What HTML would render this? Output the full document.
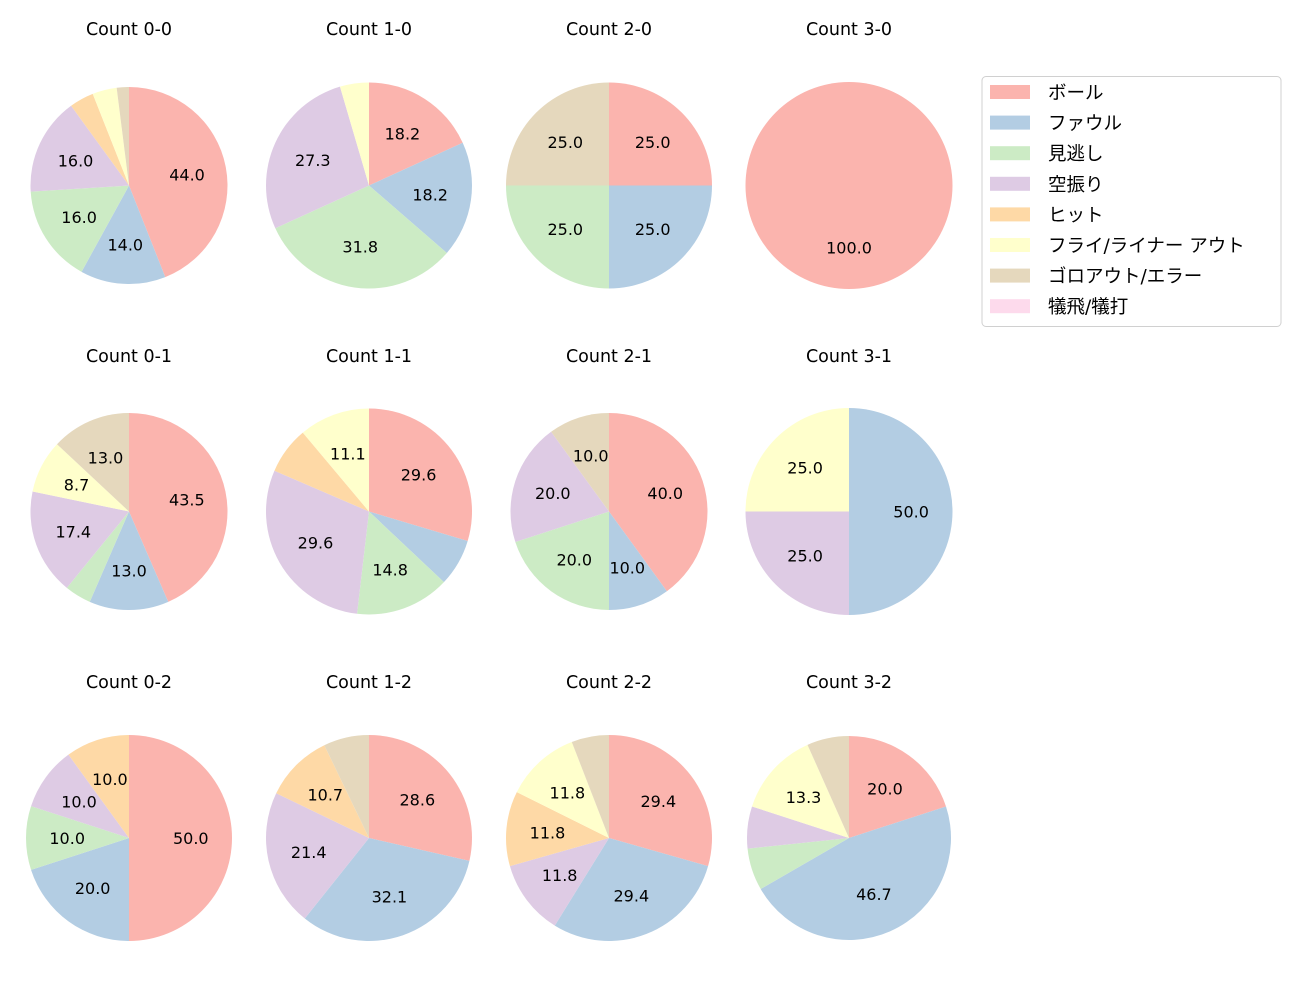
<!DOCTYPE html>
<html><head><meta charset="utf-8"><style>
body{margin:0;background:#fff;}
svg text{font-family:"DejaVu Sans","Noto Sans CJK JP",sans-serif;fill:#000;}
</style></head><body>
<svg id="chart" width="1300" height="1000" xmlns="http://www.w3.org/2000/svg"></svg>
<script>
const categories = ["ボール","ファウル","見逃し","空振り","ヒット","フライ/ライナー アウト","ゴロアウト/エラー","犠飛/犠打"];
const colors = ["#fbb4ae","#b3cde3","#ccebc5","#decbe4","#fed9a6","#ffffcc","#e5d8bd","#fddaec"];
const titles = ["Count 0-0","Count 1-0","Count 2-0","Count 3-0","Count 0-1","Count 1-1","Count 2-1","Count 3-1","Count 0-2","Count 1-2","Count 2-2","Count 3-2"];
const counts00 = [22,7,8,8,2,2,1,0];
const counts10 = [4,4,7,6,0,1,0,0];
const counts20 = [1,1,1,0,0,0,1,0];
const counts30 = [1,0,0,0,0,0,0,0];
const counts01 = [10,3,1,4,0,2,3,0];
const counts11 = [8,2,4,8,2,3,0,0];
const counts21 = [4,1,2,2,0,0,1,0];
const counts31 = [0,2,0,1,0,1,0,0];
const counts02 = [5,2,1,1,1,0,0,0];
const counts12 = [8,9,0,6,3,0,2,0];
const counts22 = [5,5,0,2,2,2,1,0];
const counts32 = [3,7,1,1,0,2,1,0];
const allCounts = [counts00,counts10,counts20,counts30,counts01,counts11,counts21,counts31,counts02,counts12,counts22,counts32];
const NS="http://www.w3.org/2000/svg";
const svg=document.getElementById('chart');
const colX=[129,369,609,849], rowY=[185.5,511.5,838], titleY=[29,356,682];
const radii=[98.5,103,103,103.5,98.5,103,98.5,103.5,103,103,103,102];
function mk(t,a){const e=document.createElementNS(NS,t);for(const k in a)e.setAttribute(k,a[k]);return e;}
allCounts.forEach((vals,i)=>{
  const cx=colX[i%4], cy=rowY[Math.floor(i/4)], r=radii[i];
  const g=mk('g',{});
  
  
  svg.appendChild(g);
  const t=mk('text',{x:cx,y:titleY[Math.floor(i/4)]+6,'text-anchor':'middle','font-size':17.5});
  t.textContent=titles[i];
  
  
  g.appendChild(t);
  const tot=vals.reduce((a,b)=>a+b,0);
  let ang=90;
  vals.forEach((v,j)=>{
    if(!v)return;
    const sweep=v/tot*360, a0=ang, a1=ang-sweep; ang=a1;
    let el;
    if(sweep>=359.999){el=mk('circle',{cx,cy,r,fill:colors[j]});}
    else{
      const p=a=>[cx+r*Math.cos(a*Math.PI/180),cy-r*Math.sin(a*Math.PI/180)];
      const s=p(a0),e=p(a1);
      el=mk('path',{d:`M${cx},${cy}L${s[0]},${s[1]}A${r},${r} 0 ${sweep>180?1:0} 1 ${e[0]},${e[1]}Z`,fill:colors[j]});
    }
    
    
    g.appendChild(el);
    const pct=v/tot*100;
    if(pct>=8){
      const m=(a0+a1)/2*Math.PI/180;
      const lb=mk('text',{x:cx+0.6*r*Math.cos(m),y:cy-0.6*r*Math.sin(m)+6,'text-anchor':'middle','font-size':16});
      lb.textContent=pct.toFixed(1);
      
      
      g.appendChild(lb);
    }
  });
});
const lg=mk('g',{});


svg.appendChild(lg);
lg.appendChild(mk('rect',{x:982,y:76.5,width:299,height:250,rx:4,fill:'#fff',stroke:'#d0d0d0'}));
categories.forEach((c,j)=>{
  const y=92+j*30.6;
  const sw=mk('rect',{x:990,y:y-7,width:40,height:14,fill:colors[j]});
  
  
  lg.appendChild(sw);
  const tx=mk('text',{x:1048,y:y+7,'font-size':18.5});
  tx.textContent=c;
  
  
  lg.appendChild(tx);
});
</script>
</body></html>
